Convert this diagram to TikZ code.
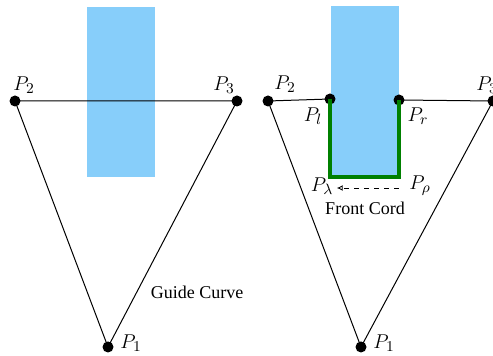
\documentclass[tikz,border=0pt]{standalone}
\usepackage{fontspec}
\setmainfont{Liberation Serif}
\usetikzlibrary{positioning,arrows.meta}
\definecolor{stripFill}{HTML}{87CEFA}
\definecolor{cordStroke}{HTML}{008000}

\begin{document}
\begin{tikzpicture}[
  x=0.6pt, y=-0.6pt,
  font=\fontsize{10.8}{12.5}\selectfont,
  dot/.style   ={circle, fill=black, minimum size=6.6pt, inner sep=0pt},
  strip/.style ={fill=stripFill, draw=none},
  guide/.style ={line width=0.6pt, black},
  cord/.style  ={line width=2.6pt, cordStroke, line join=miter},
  front/.style ={-{Latex[open, length=3.5pt, width=3.5pt]}, dashed, line width=0.5pt},
  lbl/.style   ={inner sep=0pt},
  pt/.style    ={inner sep=0pt, font=\fontsize{13}{15}\selectfont},
]
\useasboundingbox (0,0) rectangle (493,356);

% ==================== Left: strip over guide curve ====================
\fill[strip] (87,7) rectangle (155,177);
\node[dot] (lP2) at (15,101)  {};
\node[dot] (lP3) at (237,101) {};
\node[dot] (lP1) at (108,347) {};
\node[pt] at ([shift={(9,-16)}]lP2)   {$P_2$};
\node[pt] at ([shift={(-13,-16)}]lP3) {$P_3$};
\node[pt] at ([shift={(23,-4)}]lP1)   {$P_1$};
\draw[guide] (lP2.center) -- (lP3.center) -- (lP1.center) -- cycle;
\node[lbl] (gcurve) at (197,292) {Guide Curve};

% ==================== Right: strip cut, front cord ====================
\fill[strip] (331,6) rectangle (399,177);
\node[dot] (rP2) at (268,101) {};
\node[dot] (rP3) at (493,101) {};
\node[dot] (rP1) at (361,347) {};
\node[dot] (Pl)  at (330,99)  {};
\node[dot] (Pr)  at (399,100) {};
\coordinate (Plam) at (330,177);
\coordinate (Prho) at (399,177);

\draw[guide] (rP2.center) -- (Pl.center);
\draw[guide] (Pr.center) -- (rP3.center);
\draw[guide] (rP2.center) -- (rP1.center) -- (rP3.center);
\draw[cord] (Pl.center) -- (Plam) -- (Prho) -- (Pr.center);

\node[pt] at ([shift={(17,-17)}]rP2) {$P_2$};
\node[pt] at ([shift={(-6,-16)}]rP3) {$P_3$};
\node[pt] at ([shift={(23,-4)}]rP1)  {$P_1$};
\node[pt] at ([shift={(-17,17)}]Pl)  {$P_l$};
\node[pt] at ([shift={(19,16)}]Pr)   {$P_r$};
\node[pt] (lamlbl) at (322,186) {$P_\lambda$};
\node[pt] (rholbl) at (420,186) {$P_\rho$};
\draw[front] ([xshift=-6pt]rholbl.west |- 0,188) -- ([xshift=2pt]lamlbl.east |- 0,188);
\node[lbl] (fcord) at (365,208) {Front Cord};

\end{tikzpicture}
\end{document}
